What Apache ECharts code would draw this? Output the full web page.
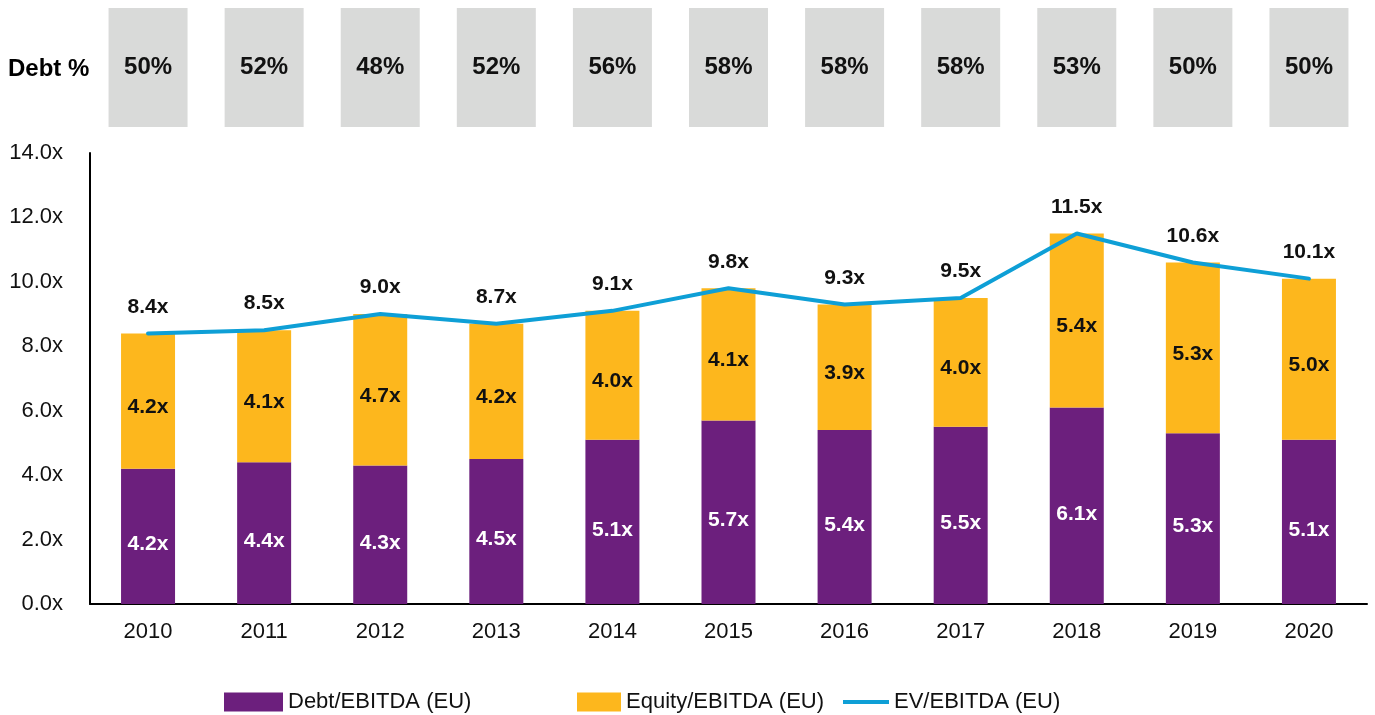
<!DOCTYPE html>
<html>
<head>
<meta charset="utf-8">
<script src="https://cdn.jsdelivr.net/npm/echarts@6/dist/echarts.min.js"></script>
<style>
  html, body { margin: 0; padding: 0; background: #fff; }
  #main { width: 1375px; height: 715px; }
</style>
</head>
<body>
<div id="main"></div>
<script>
// data
var years = ['2010','2011','2012','2013','2014','2015','2016','2017','2018','2019','2020'];
var debtEbitda = [4.2, 4.4, 4.3, 4.5, 5.1, 5.7, 5.4, 5.5, 6.1, 5.3, 5.1];
var equityEbitda = [4.2, 4.1, 4.7, 4.2, 4.0, 4.1, 3.9, 4.0, 5.4, 5.3, 5.0];
var evEbitda = [8.4, 8.5, 9.0, 8.7, 9.1, 9.8, 9.3, 9.5, 11.5, 10.6, 10.1];
var debtPct = [50, 52, 48, 52, 56, 58, 58, 58, 53, 50, 50];

var FONT = '"Liberation Sans", Arial, sans-serif';
var PURPLE = '#6c1f7d';
var ORANGE = '#fdb71d';
var BLUE = '#0e9fd6';
var GREY = '#d9dad9';

var myChart = echarts.init(document.getElementById('main'));

function fmtX(v){ return v.toFixed(1) + 'x'; }

var option = {
	animation: false,
	textStyle: { fontFamily: FONT },
	grid: [
		{ left: 90, right: 8, top: 153, bottom: 111 },
		{ left: 90, right: 8, top: 8, height: 119 }
	],
	xAxis: [
		{
			type: 'category', gridIndex: 0, data: years,
			axisLine: { lineStyle: { color: '#000', width: 2 } },
			axisTick: { show: false },
			axisLabel: { color: '#111', fontSize: 22, margin: 17, fontFamily: FONT }
		},
		{
			type: 'category', gridIndex: 1, data: years,
			show: false
		}
	],
	yAxis: [
		{
			type: 'value', gridIndex: 0, min: 0, max: 14, interval: 2,
			axisLine: { show: true, lineStyle: { color: '#000', width: 2 } },
			axisTick: { show: false },
			splitLine: { show: false },
			axisLabel: { color: '#111', fontSize: 22, margin: 27, fontFamily: FONT,
				formatter: function(v){ return v.toFixed(1) + 'x'; } }
		},
		{
			type: 'value', gridIndex: 1, min: 0, max: 1, show: false
		}
	],
	legend: [
		{
			left: 219, top: 686, itemWidth: 59, itemHeight: 19, icon: 'rect',
			data: ['Debt/EBITDA (EU)'],
			textStyle: { fontSize: 22, color: '#111', fontFamily: FONT }
		},
		{
			left: 572, top: 686, itemWidth: 44, itemHeight: 19, icon: 'rect',
			data: ['Equity/EBITDA (EU)'],
			textStyle: { fontSize: 22, color: '#111', fontFamily: FONT }
		},
		{
			left: 838, top: 686, itemWidth: 46, itemHeight: 19,
			data: [{ name: 'EV/EBITDA (EU)', icon: 'path://M0,8 L46,8 L46,12 L0,12 Z',
				itemStyle: { color: BLUE, opacity: 1 } }],
			textStyle: { fontSize: 22, color: '#111', fontFamily: FONT }
		}
	],
	graphic: [
		{
			type: 'text', left: 8, top: 57,
			style: { text: 'Debt %', fill: '#000', font: 'bold 24px ' + FONT }
		}
	],
	series: [
		{
			name: 'Debt/EBITDA (EU)', type: 'bar', stack: 'ev',
			xAxisIndex: 0, yAxisIndex: 0,
			barWidth: 54,
			data: debtEbitda,
			itemStyle: { color: PURPLE },
			label: { show: true, position: 'inside', offset: [0, 8], color: '#fff', fontSize: 21, fontWeight: 'bold', fontFamily: FONT,
				formatter: function(p){ return fmtX(p.value); } }
		},
		{
			name: 'Equity/EBITDA (EU)', type: 'bar', stack: 'ev',
			xAxisIndex: 0, yAxisIndex: 0,
			barWidth: 54,
			data: equityEbitda,
			itemStyle: { color: ORANGE },
			label: { show: true, position: 'inside', offset: [0, 6], color: '#111', fontSize: 21, fontWeight: 'bold', fontFamily: FONT,
				formatter: function(p){ return fmtX(p.value); } }
		},
		{
			name: 'EV/EBITDA (EU)', type: 'line',
			xAxisIndex: 0, yAxisIndex: 0,
			data: evEbitda,
			symbol: 'circle', symbolSize: 0.01, showSymbol: true,
			lineStyle: { color: BLUE, width: 4, cap: 'round' },
			itemStyle: { color: BLUE },
			label: { show: true, position: 'top', distance: 16, color: '#111', fontSize: 21, fontWeight: 'bold', fontFamily: FONT,
				formatter: function(p){ return fmtX(p.value); } },
			labelLayout: { hideOverlap: false },
			z: 5
		},
		{
			name: 'Debt %', type: 'bar',
			xAxisIndex: 1, yAxisIndex: 1,
			barWidth: 79,
			data: debtPct.map(function(){ return 1; }),
			itemStyle: { color: GREY },
			label: { show: true, position: 'inside', color: '#111', fontSize: 24, fontWeight: 'bold', fontFamily: FONT,
				formatter: function(p){ return debtPct[p.dataIndex] + '%'; } },
			silent: true
		}
	]
};

myChart.setOption(option);
</script>
</body>
</html>
